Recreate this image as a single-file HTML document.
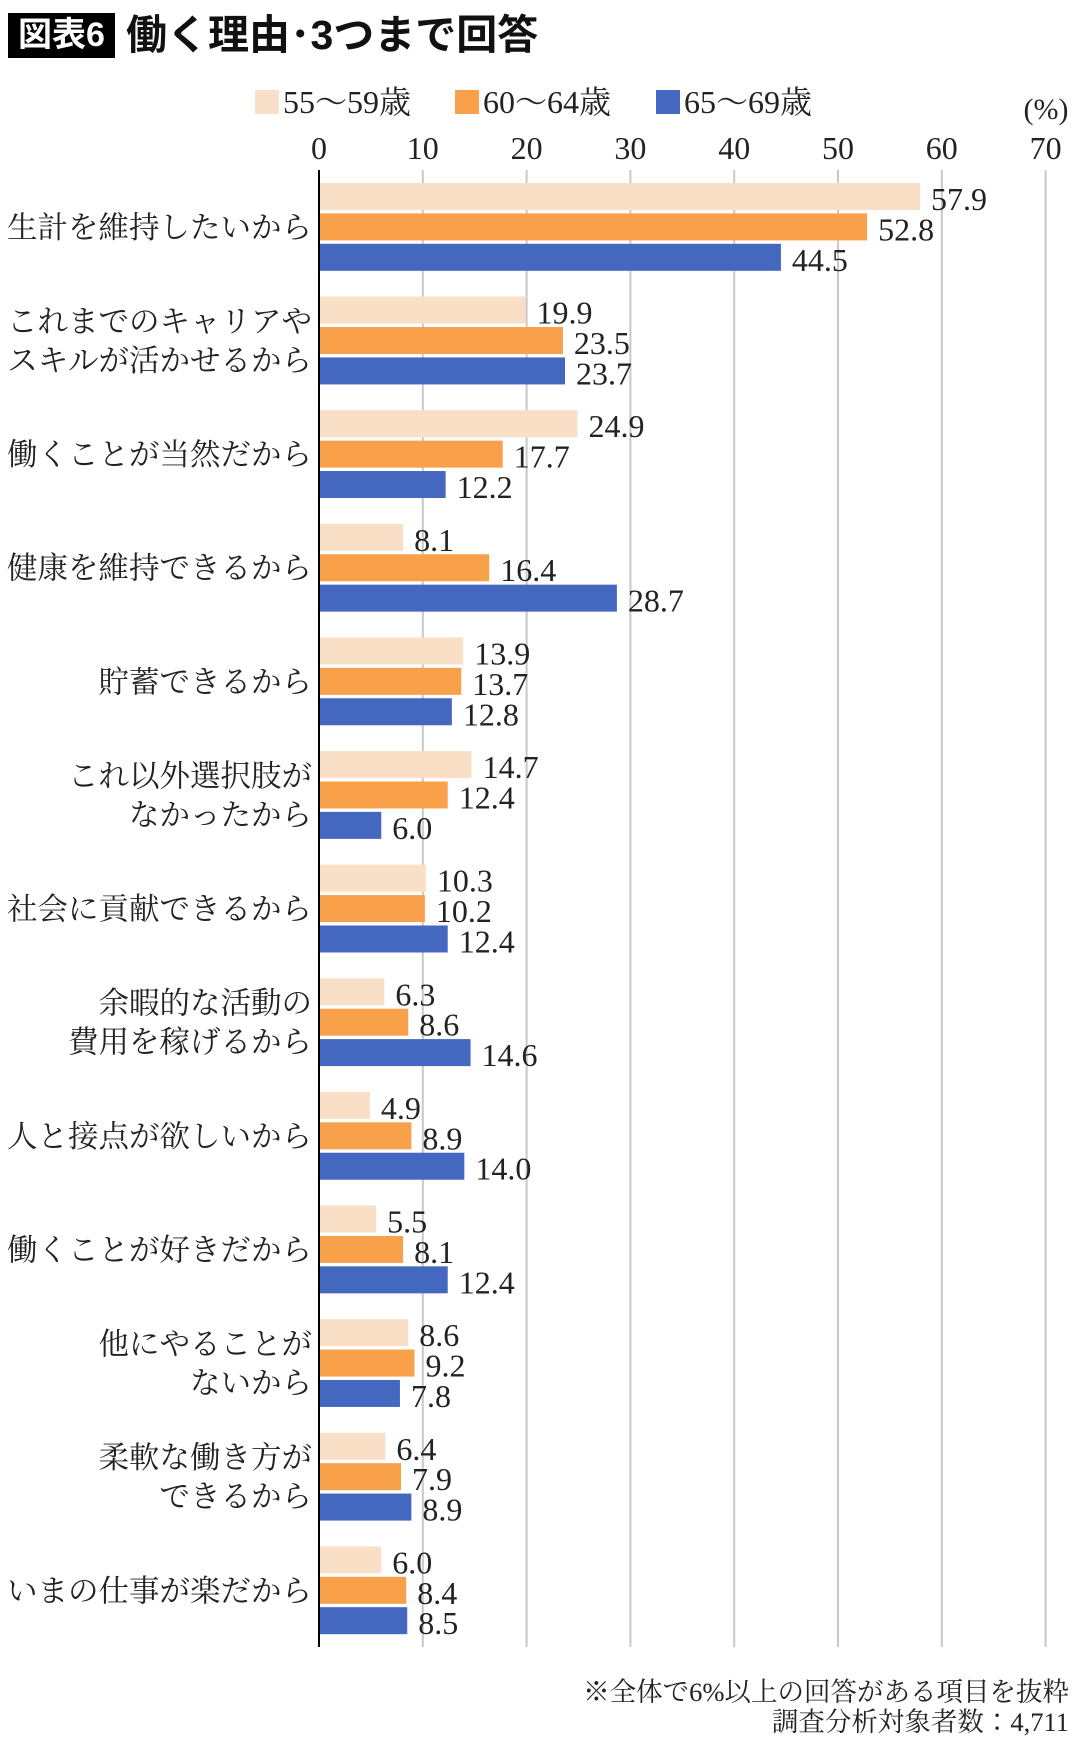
<!DOCTYPE html>
<html><head><meta charset="utf-8">
<style>
body{margin:0;width:1080px;height:1738px;background:#fff;overflow:hidden;position:relative;font-family:"Liberation Serif","Noto Serif CJK SC",serif;}
#title-box{position:absolute;left:8px;top:13px;width:107px;height:45px;background:#000;color:#fff;font:bold 34px "Liberation Sans","Noto Sans CJK JP",sans-serif;line-height:45px;text-align:center;}
#title-text{position:absolute;left:126px;top:9px;font:bold 41px "Liberation Sans","Noto Sans CJK JP",sans-serif;line-height:52px;color:#111;}
.foot{position:absolute;right:11px;font-size:26.5px;color:#222;font-family:"Liberation Serif","Noto Serif CJK JP",serif;}
svg{position:absolute;left:0;top:0}
</style></head><body>
<div id="title-box">図表6</div>
<div id="title-text">働く理由･3つまで回答</div>
<div class="foot" style="top:1670px">※全体で6%以上の回答がある項目を抜粋</div>
<div class="foot" style="top:1700px">調査分析対象者数：4,711</div>
<svg id="chart" width="1080" height="1738"></svg>
<script>
const categories=[["生計を維持したいから"],["これまでのキャリアや","スキルが活かせるから"],["働くことが当然だから"],["健康を維持できるから"],["貯蓄できるから"],["これ以外選択肢が","なかったから"],["社会に貢献できるから"],["余暇的な活動の","費用を稼げるから"],["人と接点が欲しいから"],["働くことが好きだから"],["他にやることが","ないから"],["柔軟な働き方が","できるから"],["いまの仕事が楽だから"]];
const series55=[57.9,19.9,24.9,8.1,13.9,14.7,10.3,6.3,4.9,5.5,8.6,6.4,6.0];
const series60=[52.8,23.5,17.7,16.4,13.7,12.4,10.2,8.6,8.9,8.1,9.2,7.9,8.4];
const series65=[44.5,23.7,12.2,28.7,12.8,6.0,12.4,14.6,14.0,12.4,7.8,8.9,8.5];
const seriesNames=["55～59歳","60～64歳","65～69歳"];
const ticks=[0,10,20,30,40,50,60,70];

const NS="http://www.w3.org/2000/svg";
const svg=document.getElementById('chart');
const X0=319,XU=10.38,TOP=170,BOT=1647;
const band=(BOT-TOP)/categories.length;
const colors=["#f9dfc6","#f9a04a","#4468bf"];
const x=v=>X0+v*XU;
function mk(t,a){const e=document.createElementNS(NS,t);for(const k in a)e.setAttribute(k,a[k]);svg.appendChild(e);return e;}
ticks.forEach(t=>{
  if(t>0){const g=mk('line',{x1:x(t),x2:x(t),y1:TOP,y2:BOT,stroke:'#c8c8c8','stroke-width':2});
  
  }
  const l=mk('text',{x:x(t),y:159,'text-anchor':'middle','font-size':32,fill:'#222'});
  l.textContent=t;
  
  
});
const pct=mk('text',{x:1046,y:119,'text-anchor':'middle','font-size':30,fill:'#222'});
pct.textContent='(%)';


const all=[series55,series60,series65];
categories.forEach((c,i)=>{
  const y0=TOP+i*band+13;
  all.forEach((s,j)=>{
    const by=y0+j*30.4;
    const r=mk('rect',{x:X0,y:by,width:s[i]*XU,height:27,fill:colors[j]});
    
    
    const t=mk('text',{x:x(s[i])+11,y:by+27,'font-size':32,fill:'#222'});
    t.textContent=s[i].toFixed(1);
    
    
  });
  const cy=y0+30.4+13.5;
  const lab=mk('text',{x:312,'text-anchor':'end','font-size':30.5,fill:'#222'});
  
  
  c.forEach((line,k)=>{
    const ts=document.createElementNS(NS,'tspan');
    ts.setAttribute('x',312);
    ts.setAttribute('y',cy+11+(k-(c.length-1)/2)*39);
    ts.textContent=line;lab.appendChild(ts);
  });
});
const ax=mk('line',{x1:X0,x2:X0,y1:TOP,y2:BOT,stroke:'#000','stroke-width':2});


const lx=[255,455,656];
seriesNames.forEach((n,j)=>{
  const r=mk('rect',{x:lx[j],y:90,width:24,height:24,fill:colors[j]});
  
  
  const t=mk('text',{x:lx[j]+28,y:113,'font-size':32,fill:'#222'});
  t.textContent=n;
  
  
});
</script>
</body></html>
